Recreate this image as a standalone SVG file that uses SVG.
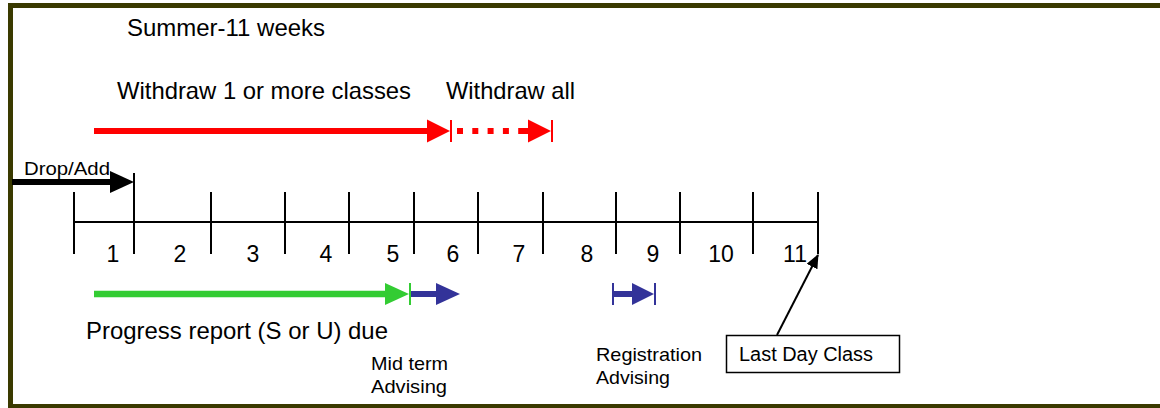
<svg xmlns="http://www.w3.org/2000/svg" width="1160" height="408" viewBox="0 0 1160 408">
<style>
text{font-family:"Liberation Sans",Arial,sans-serif;fill:#000}
.big{font-size:24px}
.num{font-size:23px;text-anchor:middle}
.sm{font-size:18.5px}
.axis{stroke:#000;stroke-width:2;fill:none}
</style>
<defs>
<marker id="blk" markerWidth="14" markerHeight="12" refX="13" refY="6" orient="auto" markerUnits="userSpaceOnUse" viewBox="0 0 14 12"><path d="M0,0 L14,6 L0,12 z" fill="#000"/></marker>
</defs>
<rect x="0" y="0" width="1160" height="408" fill="#fff"/>
<g id="frame">
<path d="M10.5,408 V5.5 H1160" fill="none" stroke="#3a3a00" stroke-width="5"/>
<line x1="10" y1="406" x2="1160" y2="406" stroke="#3a3a00" stroke-width="4"/>
</g>
<g id="title"><text class="big" x="127" y="36" textLength="198" lengthAdjust="spacingAndGlyphs">Summer-11 weeks</text></g>
<g id="timeline">
<line class="axis" x1="74" y1="222" x2="818" y2="222"/>
<path class="axis" d="M74,192V254 M134,173V254 M211,192V254 M285,192V254 M349,192V254 M414,192V254 M478,192V254 M543,192V254 M616,192V254 M680,192V254 M753,192V254 M818,192V254"/>
<text class="num" x="113" y="262">1</text>
<text class="num" x="180" y="262">2</text>
<text class="num" x="253" y="262">3</text>
<text class="num" x="326" y="262">4</text>
<text class="num" x="393" y="262">5</text>
<text class="num" x="453" y="262">6</text>
<text class="num" x="519" y="262">7</text>
<text class="num" x="587" y="262">8</text>
<text class="num" x="653" y="262">9</text>
<text class="num" x="721" y="262">10</text>
<text class="num" x="795" y="262">11</text>
</g>
<g id="connectors">
<line x1="12" y1="182" x2="113" y2="182" stroke="#000" stroke-width="6"/>
<path d="M110,171 L134,182 L110,193 z" fill="#000"/>
<line x1="94" y1="131" x2="429" y2="131" stroke="#f00" stroke-width="6"/>
<path d="M427,119.5 L450,131 L427,142.5 z" fill="#f00"/>
<line x1="451" y1="120" x2="451" y2="142" stroke="#f00" stroke-width="2"/>
<line x1="457" y1="131" x2="530" y2="131" stroke="#f00" stroke-width="6" stroke-dasharray="6 9.3"/>
<line x1="521" y1="131" x2="530" y2="131" stroke="#f00" stroke-width="6"/>
<path d="M528,119.5 L551,131 L528,142.5 z" fill="#f00"/>
<line x1="552" y1="120" x2="552" y2="142" stroke="#f00" stroke-width="2"/>
<line x1="94" y1="294" x2="387" y2="294" stroke="#33cc33" stroke-width="6.5"/>
<path d="M385,283 L409,294 L385,305 z" fill="#33cc33"/>
<line x1="410" y1="283" x2="410" y2="305" stroke="#33cc33" stroke-width="2"/>
<line x1="411" y1="294" x2="438" y2="294" stroke="#333399" stroke-width="6"/>
<path d="M436,283 L460,294 L436,305 z" fill="#333399"/>
<line x1="613" y1="283" x2="613" y2="305" stroke="#333399" stroke-width="2"/>
<line x1="613" y1="294" x2="634" y2="294" stroke="#333399" stroke-width="6"/>
<path d="M632,283 L654,294 L632,305 z" fill="#333399"/>
<line x1="655" y1="283" x2="655" y2="305" stroke="#333399" stroke-width="2"/>
<line x1="777" y1="335" x2="818" y2="255" stroke="#000" stroke-width="2" marker-end="url(#blk)"/>
</g>
<g id="drop-add-label"><text x="24" y="175" font-size="17.5" textLength="86" lengthAdjust="spacingAndGlyphs">Drop/Add</text></g>
<g id="withdraw-some"><text class="big" x="117" y="99" textLength="294" lengthAdjust="spacingAndGlyphs">Withdraw 1 or more classes</text></g>
<g id="withdraw-all"><text class="big" x="446" y="99" textLength="129" lengthAdjust="spacingAndGlyphs">Withdraw all</text></g>
<g id="progress"><text class="big" x="86" y="339" textLength="302" lengthAdjust="spacingAndGlyphs">Progress report (S or U) due</text></g>
<g id="midterm"><text class="sm" x="371" y="370" textLength="77" lengthAdjust="spacingAndGlyphs">Mid term</text><text class="sm" x="371" y="393" textLength="76" lengthAdjust="spacingAndGlyphs">Advising</text></g>
<g id="registration"><text class="sm" x="596" y="361" textLength="106" lengthAdjust="spacingAndGlyphs">Registration</text><text class="sm" x="596" y="384" textLength="74" lengthAdjust="spacingAndGlyphs">Advising</text></g>
<g id="last-day"><rect x="726.5" y="335.5" width="173" height="37" fill="#fff" stroke="#000" stroke-width="1.5"/><text x="739" y="361" font-size="19.5" textLength="134" lengthAdjust="spacingAndGlyphs">Last Day Class</text></g>
</svg>
